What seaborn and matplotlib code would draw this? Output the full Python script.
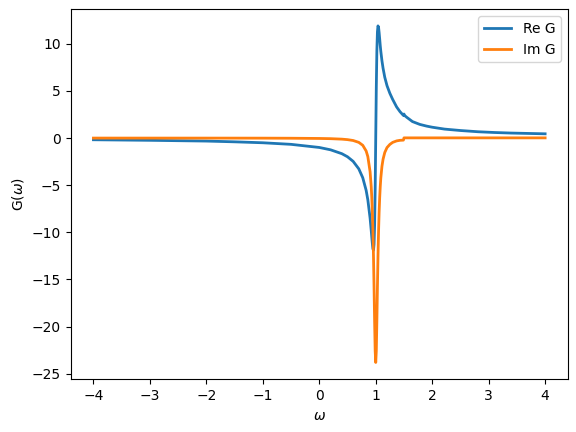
import matplotlib
matplotlib.use("Agg")
import matplotlib.pyplot as plt
import seaborn as sns

omega = [-4.0, -3.0, -2.0, -1.5, -1.0, -0.5, 0.0, 0.2, 0.4, 0.5, 0.6, 0.7, 0.77, 0.83,
         0.86, 0.9, 0.92, 0.93, 0.94, 0.95, 0.96, 0.97, 0.98, 0.99, 1.0, 1.01, 1.02, 1.03,
         1.04, 1.05, 1.06, 1.07, 1.08, 1.09, 1.11, 1.13, 1.16, 1.2, 1.25, 1.3, 1.37, 1.43,
         1.49, 1.5, 1.51, 1.55, 1.65, 1.78, 1.9, 2.0, 2.22, 2.5, 2.81, 3.1, 3.4, 3.7, 4.0]

re_g = [-0.18, -0.24, -0.32, -0.4, -0.5, -0.667, -0.998, -1.247, -1.659, -1.986, -2.473,
        -3.269, -4.208, -5.545, -6.554, -8.503, -9.80, -10.51, -11.19, -11.74, -11.9,
        -11.28, -9.26, -5.38, 0.0, 5.38, 9.26, 11.28, 11.9, 11.74, 11.19, 10.51, 9.80,
        9.2, 8.2, 7.4, 6.45, 5.55, 4.75, 4.1, 3.3, 2.8, 2.4, 2.55, 2.4, 2.2, 1.75, 1.45,
        1.27, 1.15, 0.95, 0.8, 0.67, 0.59, 0.53, 0.49, 0.45]

im_g = [-0.002, -0.003, -0.005, -0.007, -0.010, -0.019, -0.042, -0.065, -0.116, -0.167,
        -0.260, -0.458, -0.768, -1.370, -1.966, -3.571, -5.15, -6.306, -7.84, -9.859,
        -12.5, -15.79, -19.44, -22.58, -23.81, -22.58, -19.44, -15.79, -12.5, -9.859,
        -7.84, -6.306, -5.15, -4.227, -3.0, -2.239, -1.53, -1.006, -0.675, -0.459, -0.301,
        -0.24, -0.22, 0.02, 0.02, 0.02, 0.02, 0.02, 0.02, 0.02, 0.02, 0.02, 0.02, 0.02,
        0.02, 0.02, 0.02]

fig, ax = plt.subplots(figsize=(5.76, 4.32), dpi=100)
fig.subplots_adjust(left=0.123, right=0.9856, top=0.979, bottom=0.122)

sns.lineplot(x=omega, y=re_g, ax=ax, label="Re G", color="#1f77b4", lw=2, sort=False)
sns.lineplot(x=omega, y=im_g, ax=ax, label="Im G", color="#ff7f0e", lw=2, sort=False)

ax.set_xlabel(r"$\omega$")
ax.set_ylabel(r"G($\omega$)")
ax.legend(loc="upper right")

fig.savefig("out.png", dpi=100)
